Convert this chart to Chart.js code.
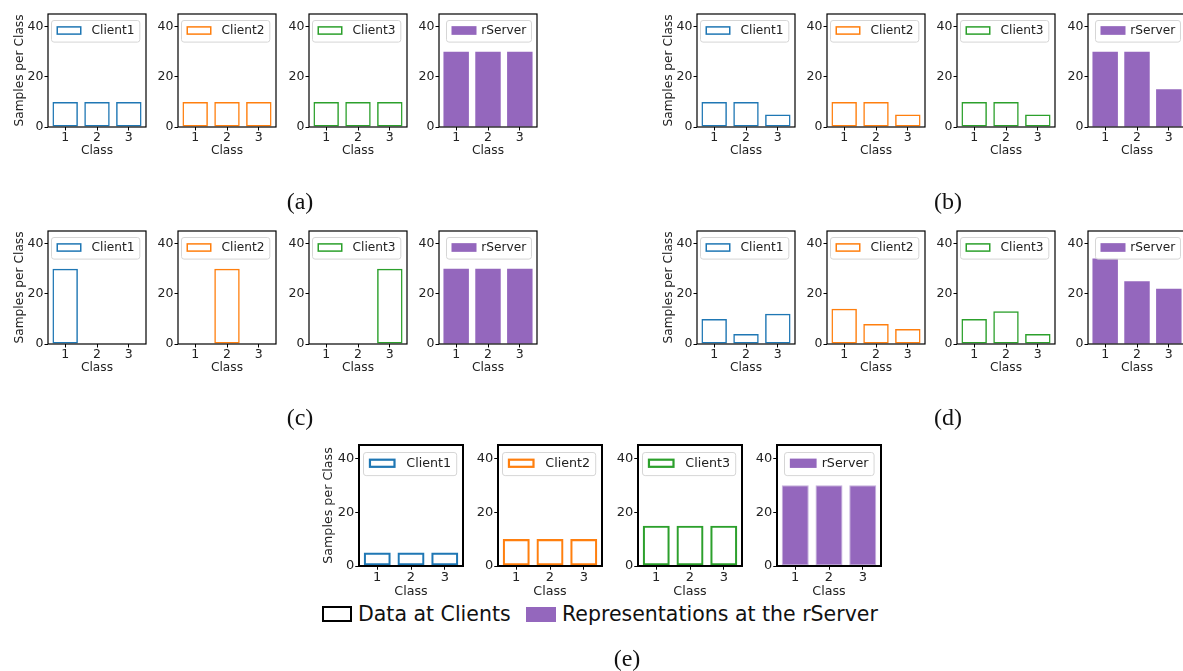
<!DOCTYPE html>
<html>
<head>
<meta charset="utf-8">
<script src="https://cdn.jsdelivr.net/npm/chart.js@4.4.1/dist/chart.umd.min.js"></script>
<style>
  html, body { margin: 0; padding: 0; background: #fff; }
  #page { position: relative; width: 1183px; height: 671px; overflow: hidden; }
  #page canvas { position: absolute; }
  .panel-label {
    position: absolute;
    font-family: 'Liberation Serif', serif;
    font-size: 24px;
    color: #111;
    transform: translate(-50%, -50%);
    white-space: nowrap;
  }
  .key {
    position: absolute;
    top: 601px;
    height: 26px;
    display: flex;
    align-items: center;
    font-family: 'DejaVu Sans', sans-serif;
    font-size: 20.5px;
    color: #111;
    white-space: nowrap;
  }
  .swatch { display: inline-block; box-sizing: border-box; margin-right: 6px; }
  .swatch.open { width: 30px; height: 16px; border: 2.5px solid #000; }
  .swatch.filled { width: 30px; height: 15px; background: #9467bd; }
</style>
</head>
<body>
<div id="page">
  <div class="key" style="left:322px"><span class="swatch open"></span>Data at Clients</div>
  <div class="key" style="left:526px"><span class="swatch filled"></span>Representations at the rServer</div>
</div>
<script>
const classes = [1, 2, 3];
const yTicks = [0, 20, 40];
const yMax = 45;
const seriesNames = ['Client1', 'Client2', 'Client3', 'rServer'];

// samples per class, one row per series (Client1, Client2, Client3, rServer)
const panelA = [[10, 10, 10], [10, 10, 10], [10, 10, 10], [30, 30, 30]];
const panelB = [[10, 10, 5], [10, 10, 5], [10, 10, 5], [30, 30, 15]];
const panelC = [[30, 0, 0], [0, 30, 0], [0, 0, 30], [30, 30, 30]];
const panelD = [[10, 4, 12], [14, 8, 6], [10, 13, 4], [34, 25, 22]];
const panelE = [[5, 5, 5], [10, 10, 10], [15, 15, 15], [30, 30, 30]];

const colors = ['#1f77b4', '#ff7f0e', '#2ca02c', '#9467bd'];
const fontFamily = "'DejaVu Sans', sans-serif";

// where each row of small plots sits on the page
const panels = [
    { name: '(a)', data: panelA, lefts: [48, 178, 309, 439], top: 14, w: 98, h: 113, s: 1, fs: 1, label: [300, 201] },
    { name: '(b)', data: panelB, lefts: [697, 827, 957, 1088], top: 14, w: 98, h: 113, s: 1, fs: 1, label: [948, 201] },
    { name: '(c)', data: panelC, lefts: [48, 178, 309, 439], top: 231, w: 98, h: 113, s: 1, fs: 1, label: [300, 417] },
    { name: '(d)', data: panelD, lefts: [697, 827, 957, 1088], top: 231, w: 98, h: 113, s: 1, fs: 1, label: [948, 417] },
    { name: '(e)', data: panelE, lefts: [359, 498, 638, 777], top: 445, w: 104, h: 121, s: 1.07, fs: 1.04, label: [627, 658] },
];

// black box around the plot area, like matplotlib spines
const framePlugin = {
    id: 'frame',
    afterDatasetsDraw(chart, args, opts) {
        const { ctx, chartArea: a } = chart;
        ctx.save();
        ctx.strokeStyle = '#000';
        ctx.lineWidth = opts.width;
        ctx.strokeRect(a.left, a.top, a.right - a.left, a.bottom - a.top);
        ctx.restore();
    },
};

// small framed legend in the upper right corner
const boxLegendPlugin = {
    id: 'boxLegend',
    afterDatasetsDraw(chart, args, opts) {
        const s = opts.s;
        const ds = chart.data.datasets[0];
        const { ctx, chartArea: a } = chart;
        ctx.save();
        ctx.font = `${12.2 * opts.fs}px ${fontFamily}`;
        const textW = ctx.measureText(ds.label).width;
        const gap = (opts.filled ? 4.7 : 10) * s;
        const patchW = 25 * s;
        const patchH = 8.7 * s;
        const boxW = 5 * s + patchW + gap + textW + 5.3 * s;
        const boxH = 21.6 * s;
        const x = Math.round(a.right - 6.5 * s - boxW) + 0.5;
        const y = Math.round(a.top + 6.4 * s) + 0.5;

        ctx.beginPath();
        ctx.roundRect(x, y, boxW, boxH, 2.5 * s);
        ctx.fillStyle = 'rgba(255,255,255,0.8)';
        ctx.fill();
        ctx.strokeStyle = '#d6d6d6';
        ctx.lineWidth = 1;
        ctx.stroke();

        const px = x + 5 * s;
        const py = y + boxH / 2 - patchH / 2 - 0.8;
        if (opts.filled) {
            ctx.fillStyle = ds.backgroundColor;
            ctx.fillRect(px, py, patchW, patchH);
        } else {
            const lw = ds.borderWidth;
            ctx.strokeStyle = ds.borderColor;
            ctx.lineWidth = lw;
            ctx.strokeRect(px + lw / 2, py + lw / 2, patchW - lw, patchH - lw);
        }

        ctx.fillStyle = '#222';
        ctx.textBaseline = 'middle';
        ctx.fillText(ds.label, px + patchW + gap, y + boxH / 2 - 0.5);
        ctx.restore();
    },
};

const page = document.getElementById('page');

const makeSubplot = (panel, index) => {
    const s = panel.s;
    const fs = panel.fs;
    const yW = s > 1 ? 38 : 35;
    const xH = s > 1 ? 33 : 31;
    const padTop = 10;
    const padRight = 4;
    const filled = index === 3;

    const canvas = document.createElement('canvas');
    const cw = yW + panel.w + padRight;
    const chh = padTop + panel.h + xH;
    canvas.width = cw;
    canvas.height = chh;
    canvas.style.width = cw + 'px';
    canvas.style.height = chh + 'px';
    canvas.style.left = (panel.lefts[index] - yW) + 'px';
    canvas.style.top = (panel.top - padTop) + 'px';
    page.appendChild(canvas);

    const tickFont = { family: fontFamily, size: 12.5 * fs };
    const titleFont = { family: fontFamily, size: 12.2 * fs };
    const axisGrid = {
        display: true,
        drawOnChartArea: false,
        drawTicks: true,
        tickLength: 3.5 * s,
        tickColor: '#000',
        tickWidth: 1,
        offset: false,
    };

    new Chart(canvas, {
        type: 'bar',
        data: {
            labels: classes,
            datasets: [
                {
                    label: seriesNames[index],
                    data: panel.data[index],
                    backgroundColor: filled ? colors[index] : 'rgba(0,0,0,0)',
                    borderColor: filled ? (s > 1 ? '#c4b0dc' : colors[index]) : colors[index],
                    borderWidth: filled ? (s > 1 ? 1 : 0) : (s > 1 ? 2.2 : 1.5),
                    borderSkipped: false,
                    categoryPercentage: 0.8,
                    barPercentage: 1,
                },
            ],
        },
        options: {
            responsive: false,
            animation: false,
            devicePixelRatio: 1,
            layout: { padding: { top: padTop, right: padRight, left: 0, bottom: 0 } },
            plugins: {
                legend: { display: false },
                tooltip: { enabled: false },
                frame: { width: s > 1 ? 2 : 1.2 },
                boxLegend: { s, fs, filled },
            },
            scales: {
                x: {
                    type: 'linear',
                    min: 0.46,
                    max: 3.54,
                    offset: false,
                    afterFit: (scale) => { scale.height = xH; },
                    afterBuildTicks: (scale) => { scale.ticks = classes.map((v) => ({ value: v })); },
                    ticks: { color: '#222', font: tickFont, padding: 0, maxRotation: 0 },
                    grid: axisGrid,
                    border: { display: false },
                    title: { display: true, text: 'Class', color: '#222', font: titleFont, padding: 0 },
                },
                y: {
                    type: 'linear',
                    min: 0,
                    max: yMax,
                    afterFit: (scale) => { scale.width = yW; },
                    afterBuildTicks: (scale) => { scale.ticks = yTicks.map((v) => ({ value: v })); },
                    ticks: { color: '#222', font: tickFont, padding: 1 },
                    grid: axisGrid,
                    border: { display: false },
                    title: {
                        display: index === 0,
                        text: 'Samples per Class',
                        color: '#222',
                        font: titleFont,
                        padding: 0,
                    },
                },
            },
        },
        plugins: [framePlugin, boxLegendPlugin],
    });
};

panels.forEach((panel) => {
    for (let i = 0; i < seriesNames.length; i++) {
        makeSubplot(panel, i);
    }
    const label = document.createElement('div');
    label.className = 'panel-label';
    label.textContent = panel.name;
    label.style.left = panel.label[0] + 'px';
    label.style.top = panel.label[1] + 'px';
    page.appendChild(label);
});
</script>
</body>
</html>
